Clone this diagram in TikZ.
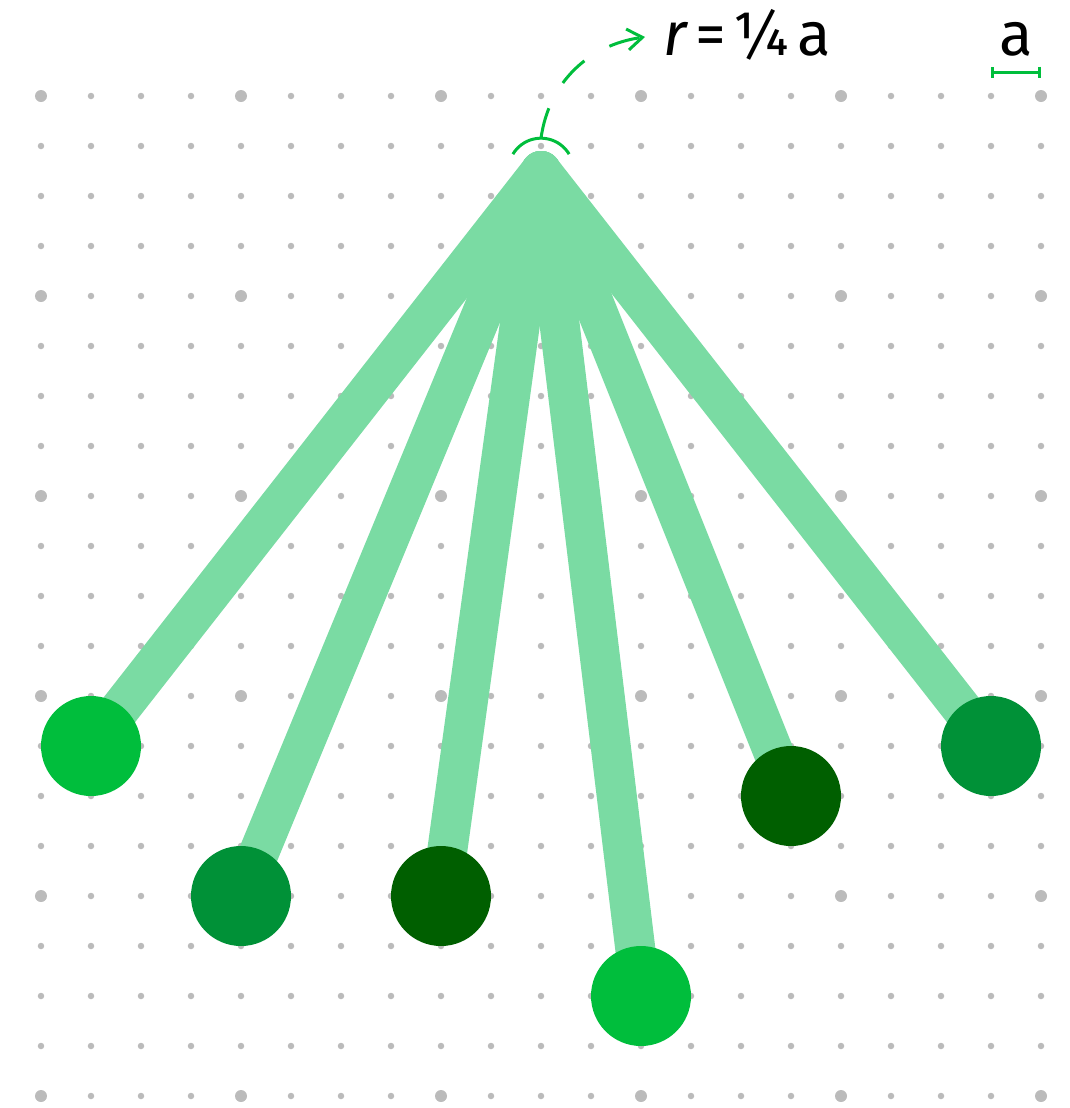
\documentclass[tikz,border=0pt]{standalone}
\usepackage{fontspec}
\setmainfont{Fira Sans}
\usepackage{xcolor}
\usetikzlibrary{arrows.meta,calc,positioning}
\definecolor{stemgreen}{HTML}{7ADBA3}
\definecolor{leafbright}{HTML}{00BE3C}
\definecolor{leafmid}{HTML}{009137}
\definecolor{leafdark}{HTML}{005F00}
\definecolor{dotgray}{HTML}{BBBBBB}

\begin{document}
\begin{tikzpicture}[x=1cm,y=1cm,
	leaf/.style={circle,inner sep=0pt,minimum size=2cm},
	stem/.style={line width=0.8cm,line cap=round,color=stemgreen},
	annot/.style={line width=0.06cm,color=leafbright}]
	\useasboundingbox (-0.82,1.92) rectangle (20.56,-20.24);
	% dot grid
	\foreach \i in {0,...,20}
		\foreach \j in {0,...,20}
			\fill[dotgray] (\i,-\j) circle [radius=0.065];
	\foreach \i in {0,4,...,20}
		\foreach \j in {0,4,...,20}
			\fill[dotgray] (\i,-\j) circle [radius=0.12];
	% stems
	\coordinate (root) at (10,-1.5);
	\coordinate (p1) at (1,-13);
	\coordinate (p2) at (4,-16);
	\coordinate (p3) at (8,-16);
	\coordinate (p4) at (12,-18);
	\coordinate (p5) at (15,-14);
	\coordinate (p6) at (19,-13);
	\foreach \p in {p1,p2,p3,p4,p5,p6}
		\draw[stem] (root) -- (\p);
	% leaves
	\node[leaf,fill=leafbright]	(n1) at (p1) {};
	\node[leaf,fill=leafmid]	(n2) at (p2) {};
	\node[leaf,fill=leafdark]	(n3) at (p3) {};
	\node[leaf,fill=leafbright]	(n4) at (p4) {};
	\node[leaf,fill=leafdark]	(n5) at (p5) {};
	\node[leaf,fill=leafmid]	(n6) at (p6) {};
	% radius note
	\draw[annot] ($(root)+(31:0.656)$) arc [start angle=31,end angle=149,radius=0.656];
	\coordinate (arctop) at ($(root)+(0,0.656)$);
	\node[anchor=base west,inner sep=0pt,font=\fontsize{35}{40}\selectfont] (rlabel) at (12.44,0.82) {\textit{r}\kern0.12em=\kern0.1em¼\kern0.12em a};
	\coordinate (tip) at (12.08,1.18);
	\draw[annot,dash pattern=on 0.62cm off 0.58cm,-{Straight Barb[length=0.3cm,width=0.42cm]}]
		(arctop) to[out=82,in=188] (tip);
	% unit bar
	\draw[annot,{Bar[width=0.22cm]}-{Bar[width=0.22cm]}] (19,0.48) -- (20,0.48);
	\node[anchor=base,inner sep=0pt,font=\fontsize{35}{40}\selectfont] (unit) at (19.5,0.82) {a};
\end{tikzpicture}
\end{document}
